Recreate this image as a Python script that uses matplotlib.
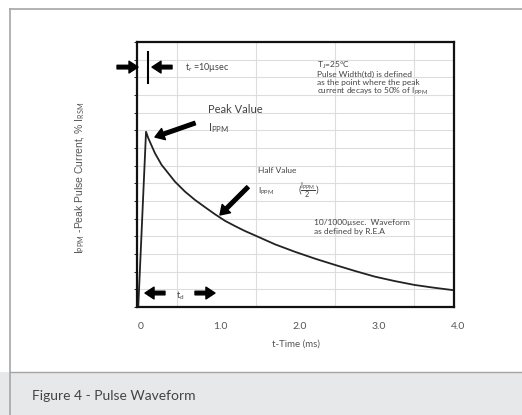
import matplotlib
matplotlib.use("Agg")
import matplotlib.pyplot as plt
from matplotlib.patches import Rectangle
from matplotlib.lines import Line2D
from matplotlib.transforms import ScaledTranslation

# waveform (t in ms, current in % of I_PPM)
time_ms = [0.016, 0.114, 0.143, 0.227, 0.311, 0.395, 0.48, 0.606, 0.732, 0.858,
           0.984, 1.11, 1.237, 1.363, 1.49, 1.74, 1.99, 2.25, 2.5, 2.75,
           3.0, 3.25, 3.5, 3.75, 3.98]
current_pct = [0, 99.2, 95.5, 87, 80.4, 75.7, 70.9, 65.3, 60.6, 56.5,
               52.5, 48.8, 45.8, 43.0, 40.5, 35.5, 31.3, 27.3, 23.8, 20.4,
               17.2, 14.7, 12.5, 10.9, 9.6]
x_ticks = [0, 1, 2, 3, 4]
x_tick_labels = ["0", "1.0", "2.0", "3.0", "4.0"]

plt.rcParams['font.family'] = ['Lato', 'DejaVu Sans']
plt.rcParams['mathtext.fontset'] = 'custom'
plt.rcParams['mathtext.rm'] = 'Lato'
plt.rcParams['mathtext.it'] = 'Lato:italic'

W, H = 522, 415
fig = plt.figure(figsize=(W / 100, H / 100), dpi=100)

# outer frame and caption band
fig.patches.append(Rectangle((0, 0), 1, 1 - 372 / H, transform=fig.transFigure,
                             facecolor='#e7e8e9', edgecolor='none', zorder=0))
fig.lines.append(Line2D([10 / W, 1], [1 - 9 / H, 1 - 9 / H], transform=fig.transFigure,
                        color='#a5a5a5', lw=1.2))
fig.lines.append(Line2D([10 / W, 10 / W], [0, 1 - 9 / H], transform=fig.transFigure,
                        color='#a5a5a5', lw=1.2))
fig.lines.append(Line2D([10 / W, 1], [1 - 372 / H, 1 - 372 / H], transform=fig.transFigure,
                        color='#a5a5a5', lw=1.0))
fig.text(32 / W, 1 - 396 / H, "Figure 4 - Pulse Waveform", fontsize=10,
         color='#444444', va='center', ha='left')

ax = fig.add_axes([137 / W, 1 - 307 / H, (454 - 137) / W, (307 - 42) / H])
ax.set_xlim(0, 4)
ax.set_ylim(0, 150)
ax.set_xticks([i * 0.5 for i in range(9)], minor=True)
ax.set_yticks(range(0, 151, 10), minor=True)
ax.grid(which='minor', color='#dddddd', lw=0.8)
ax.set_xticks(x_ticks)
ax.set_xticklabels(x_tick_labels)
ax.set_yticks([])
ax.tick_params(axis='x', which='both', length=0, pad=11, labelsize=7.5, labelcolor='#555555')
shift = ScaledTranslation(4 / 100, 0, fig.dpi_scale_trans)
for lbl in ax.get_xticklabels():
    lbl.set_transform(lbl.get_transform() + shift)
for s in ax.spines.values():
    s.set_linewidth(1.6)
    s.set_color('#111111')

ax.plot(time_ms, current_pct, color='#222222', lw=1.3)

ax.set_xlabel("t-Time (ms)", fontsize=7, color='#555555', labelpad=6)
fig.text(80 / W, 1 - 178 / H, r"I$_{\mathrm{PPM}}$ -Peak Pulse Current, % I$_{\mathrm{RSM}}$",
         rotation=90, fontsize=7.5, color='#555555', va='center', ha='center',
         family=['Liberation Sans', 'DejaVu Sans'])

arrow = dict(facecolor='black', edgecolor='black', width=2.6, headwidth=8.5,
             headlength=6.5, shrink=0)

# rise time marker
ax.plot([0.139, 0.139], [126.8, 144.3], color='black', lw=1.5)
ax.annotate("", xy=(0.013, 135.8), xytext=(-0.252, 135.8), arrowprops=arrow,
            annotation_clip=False)
ax.annotate("", xy=(0.189, 135.8), xytext=(0.442, 135.8), arrowprops=arrow)
ax.text(0.606, 135.8, r"t$_{\mathrm{r}}$ =10µsec", fontsize=6.5, color='#444444', va='center')

ax.text(2.271, 140, "T$_{\\mathrm{J}}$=25°C\nPulse Width(td) is defined\n"
        "as the point where the peak\ncurrent decays to 50% of I$_{\\mathrm{PPM}}$",
        fontsize=6, color='#444444', va='top', ha='left', linespacing=1.05)

# peak value
ax.text(0.896, 112, "Peak Value", fontsize=8, color='#444444', va='center')
ax.text(0.896, 101.3, r"I$_{\mathrm{PPM}}$", fontsize=8, color='#444444', va='center')
ax.annotate("", xy=(0.227, 96.2), xytext=(0.732, 104.1), arrowprops=arrow)

# half value
ax.text(1.527, 77, "Half Value", fontsize=6, color='#444444', va='center')
ax.text(1.527, 65.7, r"I$_{\mathrm{PPM}}$", fontsize=6, color='#444444', va='center')
ax.text(2.03, 65.7, r"$(\frac{\mathrm{I_{PPM}}}{2})$", fontsize=7.5, color='#444444',
        va='center')
ax.annotate("", xy=(1.047, 52.1), xytext=(1.40, 67.9), arrowprops=arrow)

ax.text(2.233, 45.3, "10/1000µsec.  Waveform\nas defined by R.E.A", fontsize=6,
        color='#444444', va='center', linespacing=1.2)

# decay time markers
ax.annotate("", xy=(0.101, 7.9), xytext=(0.353, 7.9), arrowprops=arrow)
ax.annotate("", xy=(0.984, 7.9), xytext=(0.732, 7.9), arrowprops=arrow)
ax.text(0.49, 6.5, r"t$_{\mathrm{d}}$", fontsize=6.5, color='#444444', va='center')

fig.savefig("out.png", dpi=100)
